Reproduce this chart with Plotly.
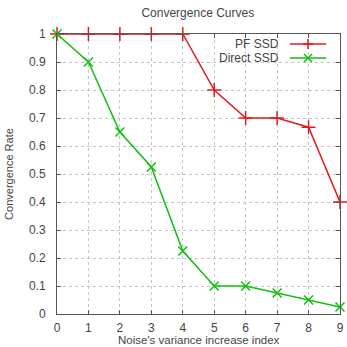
import plotly.graph_objects as go

noise_index = [0, 1, 2, 3, 4, 5, 6, 7, 8, 9]
pf_ssd = [1.0, 1.0, 1.0, 1.0, 1.0, 0.8, 0.7, 0.7, 0.667, 0.4]
direct_ssd = [1.0, 0.9, 0.65, 0.525, 0.225, 0.1, 0.1, 0.075, 0.05, 0.025]
series_names = ["PF SSD", "Direct SSD"]
x_ticks = list(range(10))
y_ticks = [0, 0.1, 0.2, 0.3, 0.4, 0.5, 0.6, 0.7, 0.8, 0.9, 1]
y_tick_labels = ["0", "0.1", "0.2", "0.3", "0.4", "0.5", "0.6", "0.7", "0.8", "0.9", "1"]
x_title = "Noise's variance increase index"
y_title = "Convergence Rate"

RED = "#e31a1c"
GREEN = "#10c010"
FONT = "Liberation Sans"
TXT = "#444444"

fig = go.Figure()
fig.add_trace(go.Scatter(
    x=noise_index, y=pf_ssd, mode="lines+markers", name=series_names[0],
    line=dict(color=RED, width=1.5),
    marker=dict(symbol="cross-thin", size=10, line=dict(color=RED, width=1.5)),
    showlegend=False, cliponaxis=False))
fig.add_trace(go.Scatter(
    x=noise_index, y=direct_ssd, mode="lines+markers", name=series_names[1],
    line=dict(color=GREEN, width=1.5),
    marker=dict(symbol="x-thin", size=9, line=dict(color=GREEN, width=1.5)),
    showlegend=False, cliponaxis=False))

axis_common = dict(
    showgrid=True, gridcolor="#c4c4c4", griddash="dot", gridwidth=1,
    showline=True, linecolor="#555555", linewidth=1, mirror="ticks",
    ticks="inside", ticklen=4, tickcolor="#555555", automargin=False,
    zeroline=False, tickfont=dict(family=FONT, size=12, color=TXT),
)

fig.update_xaxes(range=[0, 9], tickvals=x_ticks, ticklabelstandoff=3, **axis_common)
fig.update_yaxes(range=[0, 1], tickvals=y_ticks, ticktext=y_tick_labels,
                 ticklabelstandoff=8, **axis_common)

annotations = [
    dict(x=0.5, y=-0.118, xref="paper", yref="paper", text=x_title, showarrow=False,
         xanchor="center", yanchor="bottom", borderpad=0,
         font=dict(family=FONT, size=11.5, color=TXT)),
    dict(x=-0.17, y=0.5, xref="paper", yref="paper", text=y_title, showarrow=False,
         textangle=-90, xanchor="center", yanchor="middle",
         font=dict(family=FONT, size=11, color=TXT)),
]

# legend (text left of the line sample, gnuplot style)
legend_rows = [(0.964, series_names[0], RED, "M-5,0 L5,0 M0,-5 L0,5"),
               (0.914, series_names[1], GREEN, "M-4,-4 L4,4 M-4,4 L4,-4")]
shapes = []
for ypos, name, col, path in legend_rows:
    annotations.append(dict(x=0.79, y=ypos, xref="paper", yref="paper", text=name,
                            showarrow=False, xanchor="right", yanchor="middle",
                            font=dict(family=FONT, size=12, color=TXT)))
    shapes.append(dict(type="line", xref="paper", yref="paper", x0=0.823, x1=0.951,
                       y0=ypos, y1=ypos, line=dict(color=col, width=1.5)))
    shapes.append(dict(type="path", xref="paper", yref="paper", xsizemode="pixel",
                       ysizemode="pixel", xanchor=0.887, yanchor=ypos, path=path,
                       line=dict(color=col, width=1.5)))

fig.update_layout(
    width=347, height=347,
    margin=dict(l=57, r=7, t=34, b=33),
    paper_bgcolor="white", plot_bgcolor="white",
    title=dict(text="Convergence Curves", x=0.57, xanchor="center", y=0.963, yanchor="middle",
               font=dict(family=FONT, size=12, color=TXT)),
    shapes=shapes, annotations=annotations,
)

fig.write_html("out.html")
